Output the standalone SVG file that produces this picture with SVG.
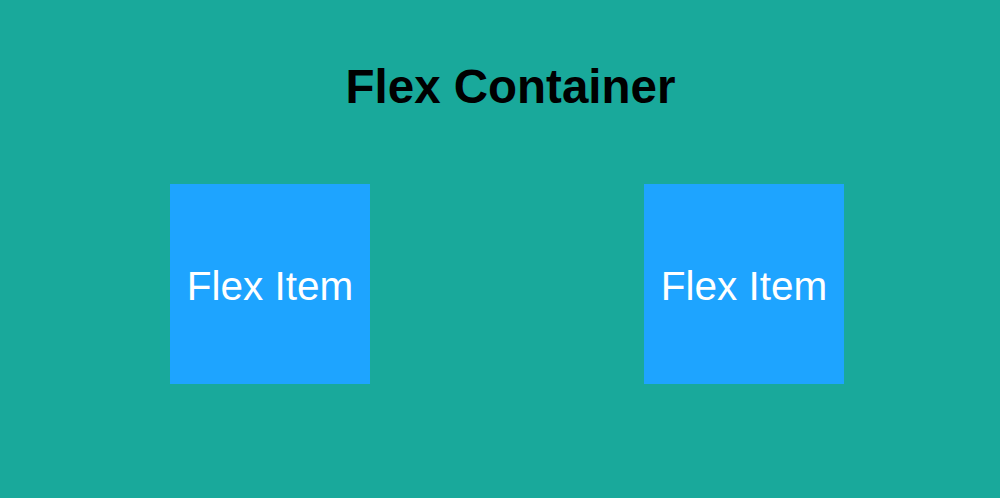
<svg xmlns="http://www.w3.org/2000/svg" width="1000" height="498" viewBox="0 0 1000 498">
<style>
.item{fill:#1ea4ff}
.lbl{font-family:"Liberation Sans",Arial,sans-serif;font-size:40.5px;fill:#ffffff;text-anchor:middle}
.title{font-family:"Liberation Sans",Arial,sans-serif;font-size:47.5px;font-weight:bold;fill:#000000;text-anchor:middle}
</style>
<rect id="container" x="0" y="0" width="1000" height="498" fill="#19a99b"/>
<g id="title"><text class="title" x="510.5" y="103">Flex Container</text></g>
<g id="item1"><rect class="item" x="170" y="184" width="200" height="200"/><text class="lbl" x="270" y="299.5">Flex Item</text></g>
<g id="item2"><rect class="item" x="644" y="184" width="200" height="200"/><text class="lbl" x="744" y="299.5">Flex Item</text></g>
<g id="connectors"/>
</svg>
